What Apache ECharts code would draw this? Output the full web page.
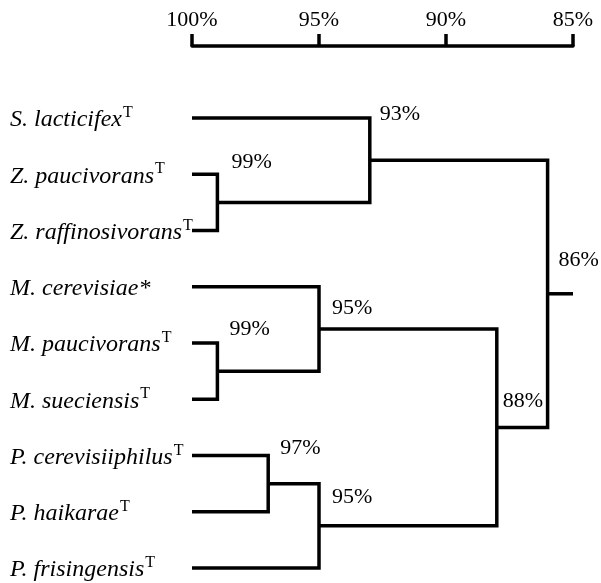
<!DOCTYPE html>
<html>
<head>
<meta charset="utf-8">
<script src="https://cdn.jsdelivr.net/npm/echarts@6/dist/echarts.min.js"></script>
<style>
html, body { margin: 0; padding: 0; background: #fff; }
#main { width: 601px; height: 583px; }
</style>
</head>
<body>
<div id="main"></div>
<script>
var leafNames = ['S. lacticifex', 'Z. paucivorans', 'Z. raffinosivorans', 'M. cerevisiae',
    'M. paucivorans', 'M. sueciensis', 'P. cerevisiiphilus', 'P. haikarae', 'P. frisingensis'];
var leafMarks = ['T', 'T', 'T', '*', 'T', 'T', 'T', 'T', 'T'];
var scaleTicks = [100, 95, 90, 85];

// internal nodes get index 9, 10, ... ; children point at leaves (0-8) or nodes
var nodeTop = [1, 0, 4, 3, 6, 13, 12, 10];
var nodeBottom = [2, 9, 5, 11, 7, 8, 14, 15];
var nodeSim = [99, 93, 99, 95, 97, 95, 88, 86];
var rootEnd = 85;

// where the % label sits, px from the node (x) and from its middle (y)
var labelDx = [14, 10, 12, 13, 12, 13, 6, 11];
var labelDy = [-40, -46, -42, -21, -35, -29, -26, -34];

var FONT = "'Liberation Serif', 'Times New Roman', serif";
var nLeaf = leafNames.length;

var posX = [], posY = [];
for (var i = 0; i < nLeaf; i++) { posX.push(100); posY.push(i); }
var nodes = [];
for (var j = 0; j < nodeSim.length; j++) {
    var a = nodeTop[j], b = nodeBottom[j];
    var mid = (posY[a] + posY[b]) / 2;
    posX.push(nodeSim[j]);
    posY.push(mid);
    nodes.push([nodeSim[j], posX[a], posY[a], posX[b], posY[b], mid, j]);
}

var chart = echarts.init(document.getElementById('main'), null, {renderer: 'canvas'});

var lineStyle = {stroke: '#000', lineWidth: 3.5, fill: null, lineJoin: 'miter', lineCap: 'butt'};

chart.setOption({
    animation: false,
    backgroundColor: '#fff',
    grid: [
        {left: 192, right: 28, top: 118, bottom: 10},
        {left: 192, right: 28, top: 45, height: 1}
    ],
    xAxis: [{
        gridIndex: 0, type: 'value', min: 85, max: 100, interval: 5, inverse: true, show: false
    }, {
        gridIndex: 1, type: 'value', position: 'top',
        min: 85, max: 100, interval: 5, inverse: true,
        axisLine: {show: true, lineStyle: {color: '#000', width: 3.5}},
        axisTick: {show: true, inside: false, length: 12, lineStyle: {color: '#000', width: 3.5}},
        axisLabel: {
            color: '#000', fontFamily: FONT, fontSize: 22, margin: 14,
            formatter: function (v) { return scaleTicks.indexOf(v) >= 0 ? v + '%' : ''; }
        },
        splitLine: {show: false}
    }],
    yAxis: [{
        gridIndex: 0, type: 'value', min: 0, max: nLeaf - 1, interval: 1, inverse: true,
        axisLine: {show: false}, axisTick: {show: false}, splitLine: {show: false},
        axisLabel: {
            align: 'left', margin: 182,
            formatter: function (v) {
                var name = leafNames[v];
                if (name === undefined) return '';
                var m = leafMarks[v];
                return m === 'T' ? '{n|' + name + '}{t|T}' : '{n|' + name + m + '}';
            },
            rich: {
                n: {fontFamily: FONT, fontSize: 24, fontStyle: 'italic', color: '#000', lineHeight: 26, padding: [4, 0, 0, 0]},
                t: {fontFamily: FONT, fontSize: 16, color: '#000', verticalAlign: 'top', lineHeight: 16, padding: [0, 0, 12, 1]}
            }
        }
    }, {
        gridIndex: 1, type: 'value', show: false
    }],
    series: [{
        type: 'custom',
        coordinateSystem: 'cartesian2d',
        xAxisIndex: 0, yAxisIndex: 0,
        data: nodes,
        renderItem: function (params, api) {
            var xn = api.value(0);
            var pTop0 = api.coord([api.value(1), api.value(2)]);
            var pTop1 = api.coord([xn, api.value(2)]);
            var pBot1 = api.coord([xn, api.value(4)]);
            var pBot0 = api.coord([api.value(3), api.value(4)]);
            var pMid = api.coord([xn, api.value(5)]);
            var k = api.value(6);
            var children = [{
                type: 'polyline',
                shape: {points: [pTop0, pTop1, pBot1, pBot0]},
                style: lineStyle
            }, {
                type: 'text',
                style: {
                    text: xn + '%', x: pMid[0] + labelDx[k], y: pMid[1] + labelDy[k],
                    fill: '#000', font: '22px ' + FONT, align: 'left', verticalAlign: 'middle'
                }
            }];
            if (k === nodeSim.length - 1) {
                var pEnd = api.coord([rootEnd, api.value(5)]);
                children.push({type: 'line', shape: {x1: pMid[0], y1: pMid[1], x2: pEnd[0], y2: pEnd[1]}, style: lineStyle});
            }
            return {type: 'group', children: children};
        }
    }]
});
</script>
</body>
</html>
